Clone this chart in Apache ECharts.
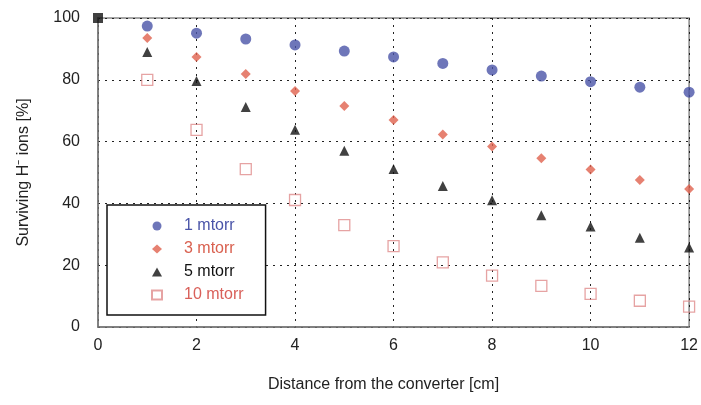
<!DOCTYPE html>
<html>
<head>
<meta charset="utf-8">
<script src="https://cdn.jsdelivr.net/npm/echarts@6/dist/echarts.min.js"></script>
<style>
html,body{margin:0;padding:0;background:#fff;}
#main{width:701px;height:405px;}
</style>
</head>
<body>
<div id="main"></div>
<script>
// 距离 (cm)
var distance = [1, 2, 3, 4, 5, 6, 7, 8, 9, 10, 11, 12];
// 各气压下的存活率 (%)
var p1 = [97.4, 95.1, 93.2, 91.3, 89.3, 87.4, 85.3, 83.2, 81.2, 79.4, 77.6, 76.0];
var p3 = [93.5, 87.4, 81.9, 76.4, 71.5, 67.0, 62.3, 58.4, 54.6, 51.0, 47.6, 44.7];
var p5 = [89.0, 79.6, 71.2, 63.8, 57.0, 51.1, 45.6, 41.0, 36.2, 32.5, 28.9, 25.7];
var p10 = [80.0, 63.8, 51.1, 41.1, 33.0, 26.2, 20.9, 16.6, 13.3, 10.7, 8.5, 6.6];
var startPoint = [[0, 100]];
var seriesNames = ['1 mtorr', '3 mtorr', '5 mtorr', '10 mtorr'];

function pairs(vals) {
	var out = [];
	for (var i = 0; i < vals.length; i++) {
		out.push([distance[i], vals[i]]);
	}
	return out;
}

var myChart = echarts.init(document.getElementById('main'));
var font = 'Liberation Sans, Arial, sans-serif';

var option = {
	animation: false,
	textStyle: {fontFamily: font},
	grid: {left: 98, right: 10, top: 18, bottom: 78, show: true, borderColor: '#888', borderWidth: 1.5},
	legend: {
		orient: 'vertical',
		left: 107,
		top: 205,
		backgroundColor: '#fff',
		borderColor: '#111',
		borderWidth: 1.5,
		borderRadius: 0,
		padding: [13, 22, 12, 44],
		itemGap: 7,
		itemWidth: 10,
		itemHeight: 9,
		textStyle: {fontSize: 16, fontFamily: font, padding: [0, 0, 0, 17]},
		data: [
			{name: seriesNames[0], textStyle: {color: '#4a54a8'}},
			{name: seriesNames[1], textStyle: {color: '#d9604f'}},
			{name: seriesNames[2], textStyle: {color: '#111'}},
			{name: seriesNames[3], textStyle: {color: '#d9605a'}}
		]
	},
	xAxis: {
		type: 'value',
		min: 0, max: 12, interval: 2,
		name: 'Distance from the converter [cm]',
		nameLocation: 'middle',
		nameGap: 50,
		nameTextStyle: {fontSize: 16, color: '#222', padding: [0, 20, 0, 0]},
		axisLine: {lineStyle: {color: '#777', width: 1.5}},
		axisTick: {show: false},
		axisLabel: {fontSize: 16, color: '#222', margin: 11},
		splitLine: {show: true, lineStyle: {color: '#222', type: [2, 5], width: 1}}
	},
	yAxis: {
		type: 'value',
		min: 0, max: 100, interval: 20,
		name: 'Surviving H\u207B ions [%]',
		nameLocation: 'middle',
		nameGap: 66,
		nameTextStyle: {fontSize: 16, color: '#222'},
		axisLine: {show: true, lineStyle: {color: '#777', width: 1.5}},
		axisTick: {show: false},
		axisLabel: {fontSize: 16, color: '#222', margin: 18},
		splitLine: {show: true, lineStyle: {color: '#222', type: [2, 5], width: 1}}
	},
	series: [
		{
			name: seriesNames[0], type: 'scatter', symbol: 'circle', symbolSize: 11,
			itemStyle: {color: '#4a54a8'},
			data: pairs(p1)
		},
		{
			name: seriesNames[1], type: 'scatter', symbol: 'diamond', symbolSize: 10,
			itemStyle: {color: '#e0624e'},
			data: pairs(p3)
		},
		{
			name: seriesNames[2], type: 'scatter', symbol: 'triangle', symbolSize: 10,
			itemStyle: {color: '#111'},
			data: pairs(p5)
		},
		{
			name: seriesNames[3], type: 'scatter', symbol: 'rect', symbolSize: 11,
			itemStyle: {color: 'rgba(255,255,255,0)', borderColor: '#e08c8c', borderWidth: 1.3},
			data: pairs(p10)
		},
		{
			name: 'start', type: 'scatter', symbol: 'rect', symbolSize: 10,
			itemStyle: {color: '#111'},
			data: startPoint
		}
	]
};
myChart.setOption(option, true);
</script>
</body>
</html>
